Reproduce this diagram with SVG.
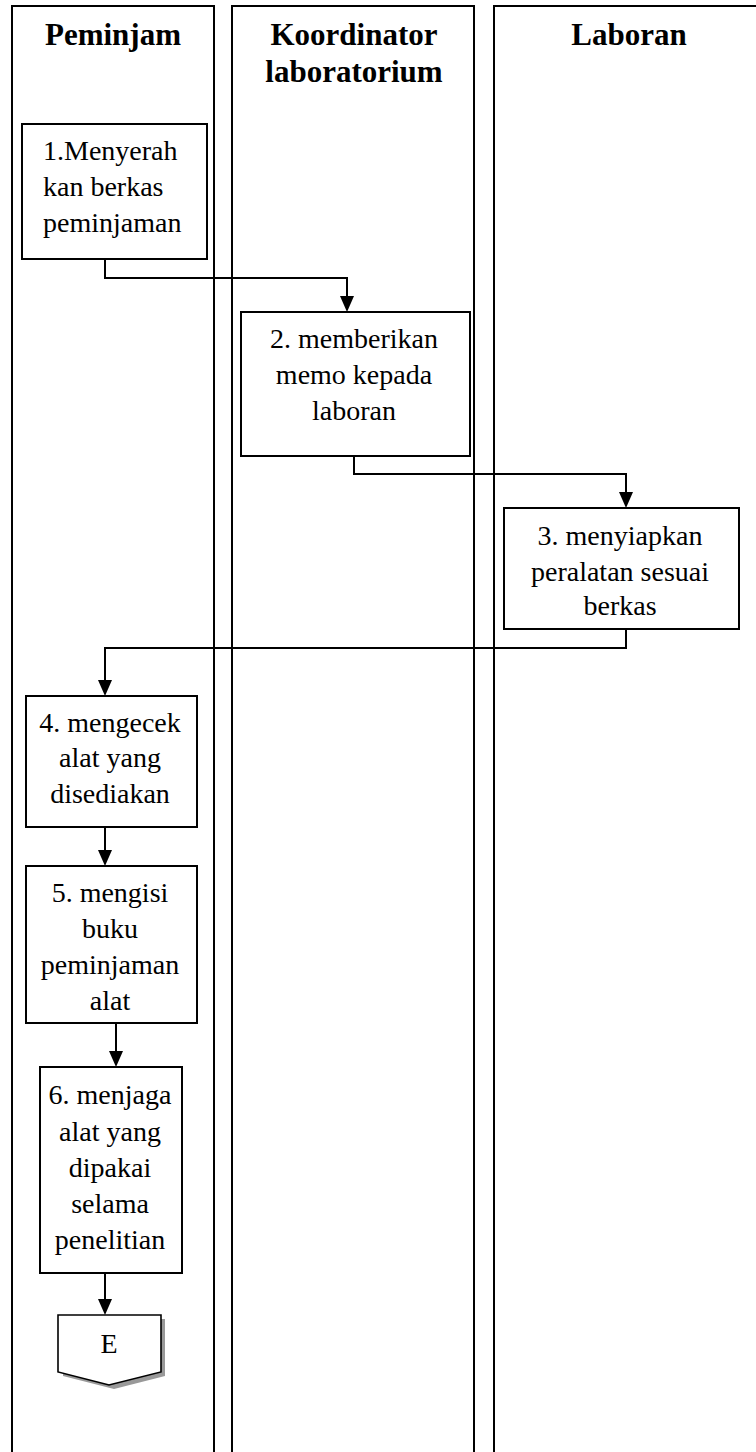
<svg xmlns="http://www.w3.org/2000/svg" width="756" height="1452" viewBox="0 0 756 1452">
<style>
.lane{fill:none;stroke:#000;stroke-width:2}
.box{fill:#fff;stroke:#000;stroke-width:2}
.hd{font-family:"Liberation Serif","Times New Roman",serif;font-weight:bold;font-size:31px;text-anchor:middle;fill:#000}
.tx{font-family:"Liberation Serif","Times New Roman",serif;font-size:28px;text-anchor:middle;fill:#000}
.cn{fill:none;stroke:#000;stroke-width:2}
</style>
<rect width="756" height="1452" fill="#fff"/>
<g id="lane-peminjam">
<path class="lane" d="M12,1460 V6 H214 V1460"/>
<text class="hd" x="113" y="45">Peminjam</text>
</g>
<g id="lane-koordinator">
<path class="lane" d="M232,1460 V6 H474 V1460"/>
<text class="hd" x="354" y="45">Koordinator</text>
<text class="hd" x="354" y="82">laboratorium</text>
</g>
<g id="lane-laboran">
<path class="lane" d="M494,1460 V6 H770"/>
<text class="hd" x="629" y="45">Laboran</text>
</g>
<g id="connectors">
<path class="cn" d="M105,259 V278 H347 V297"/>
<path d="M340,296 L354,296 L347,312 Z" fill="#000"/>
<path class="cn" d="M354,456 V474 H626 V493"/>
<path d="M619,492 L633,492 L626,508 Z" fill="#000"/>
<path class="cn" d="M626,629 V648 H105 V681"/>
<path d="M98,680 L112,680 L105,696 Z" fill="#000"/>
<path class="cn" d="M105,827 V851"/>
<path d="M98,850 L112,850 L105,866 Z" fill="#000"/>
<path class="cn" d="M116,1023 V1052"/>
<path d="M109,1051 L123,1051 L116,1067 Z" fill="#000"/>
<path class="cn" d="M105,1273 V1300"/>
<path d="M98,1299 L112,1299 L105,1315 Z" fill="#000"/>
</g>
<g id="node1">
<rect class="box" x="22" y="124" width="185" height="135"/>
<text class="tx" x="43" y="160" style="text-anchor:start">1.Menyerah</text>
<text class="tx" x="43" y="196" style="text-anchor:start">kan berkas</text>
<text class="tx" x="43" y="232" style="text-anchor:start">peminjaman</text>
</g>
<g id="node2">
<rect class="box" x="241" y="312" width="229" height="144"/>
<text class="tx" x="354" y="348">2. memberikan</text>
<text class="tx" x="354" y="384">memo kepada</text>
<text class="tx" x="354" y="420">laboran</text>
</g>
<g id="node3">
<rect class="box" x="504" y="508" width="235" height="121"/>
<text class="tx" x="620" y="545">3. menyiapkan</text>
<text class="tx" x="620" y="581">peralatan sesuai</text>
<text class="tx" x="620" y="615">berkas</text>
</g>
<g id="node4">
<rect class="box" x="26" y="696" width="171" height="131"/>
<text class="tx" x="110" y="732">4. mengecek</text>
<text class="tx" x="110" y="767">alat yang</text>
<text class="tx" x="110" y="803">disediakan</text>
</g>
<g id="node5">
<rect class="box" x="26" y="866" width="171" height="157"/>
<text class="tx" x="110" y="902">5. mengisi</text>
<text class="tx" x="110" y="938">buku</text>
<text class="tx" x="110" y="974">peminjaman</text>
<text class="tx" x="110" y="1010">alat</text>
</g>
<g id="node6">
<rect class="box" x="40" y="1067" width="142" height="206"/>
<text class="tx" x="110" y="1104">6. menjaga</text>
<text class="tx" x="110" y="1141">alat yang</text>
<text class="tx" x="110" y="1177">dipakai</text>
<text class="tx" x="110" y="1213">selama</text>
<text class="tx" x="110" y="1249">penelitian</text>
</g>
<g id="nodeE">
<path d="M63,1319 H165 V1376 L114,1389 L63,1376 Z" fill="#999"/>
<path d="M58,1315 H161 V1372 L109,1385 L58,1372 Z" fill="#fff" stroke="#000" stroke-width="1.6"/>
<text class="tx" x="109" y="1353">E</text>
</g>
</svg>
